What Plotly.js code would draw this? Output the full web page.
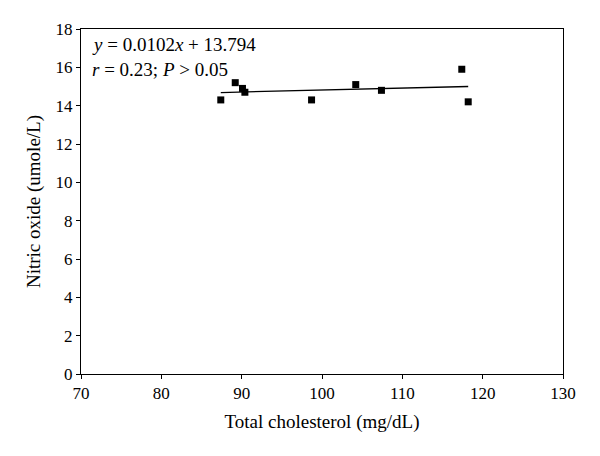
<!DOCTYPE html>
<html>
<head>
<meta charset="utf-8">
<script src="https://cdn.plot.ly/plotly-3.0.1.min.js"></script>
<style>html,body{margin:0;padding:0;background:#fff;}#chart{width:600px;height:456px;}</style>
</head>
<body>
<div id="chart"></div>
<script>
const cholesterol = [87.4, 89.2, 90.1, 90.4, 98.7, 104.2, 107.4, 117.4, 118.2];
const nitricOxide = [14.3, 15.2, 14.9, 14.7, 14.3, 15.1, 14.8, 15.9, 14.2];
const slope = 0.0102;
const intercept = 13.794;
const xTicks = [70, 80, 90, 100, 110, 120, 130];
const yTicks = [0, 2, 4, 6, 8, 10, 12, 14, 16, 18];

const xMin = Math.min(...cholesterol), xMax = Math.max(...cholesterol);
const trendX = [xMin, xMax];
const trendY = trendX.map(v => slope * v + intercept);

const font = {family: '"Liberation Serif", "DejaVu Serif", serif', color: '#000'};
const f = s => Object.assign({size: s}, font);

const data = [
  {x: trendX, y: trendY, mode: 'lines', type: 'scatter',
   line: {color: '#000', width: 1.3}, hoverinfo: 'skip', showlegend: false},
  {x: cholesterol, y: nitricOxide, mode: 'markers', type: 'scatter',
   marker: {symbol: 'square', size: 7, color: '#000'}, showlegend: false}
];

const layout = {
  width: 600, height: 456,
  margin: {l: 81, r: 37, t: 29, b: 82},
  paper_bgcolor: '#fff', plot_bgcolor: '#fff',
  font: f(17),
  showlegend: false,
  xaxis: {
    range: [70, 130], tickvals: xTicks, ticktext: xTicks.map(String),
    showgrid: false, zeroline: false,
    showline: true, linecolor: '#000', linewidth: 1, mirror: true,
    ticks: 'outside', ticklen: 4, tickcolor: '#000', tickwidth: 1,
    tickfont: f(17),
    title: {text: 'Total cholesterol (mg/dL)', font: f(19), standoff: 12}
  },
  yaxis: {
    range: [0, 18], tickvals: yTicks, ticktext: yTicks.map(String),
    showgrid: false, zeroline: false,
    showline: true, linecolor: '#000', linewidth: 1, mirror: true,
    ticks: 'outside', ticklen: 4, tickcolor: '#000', tickwidth: 1,
    tickfont: f(17),
    title: {text: 'Nitric oxide (umole/L)', font: f(19), standoff: 9}
  },
  annotations: [
    {xref: 'paper', yref: 'paper', x: 0.018, y: 0.955, xanchor: 'left', yanchor: 'middle',
     text: '<i>y</i> = 0.0102<i>x</i> + 13.794', showarrow: false, font: f(19)},
    {xref: 'paper', yref: 'paper', x: 0.018, y: 0.882, xanchor: 'left', yanchor: 'middle',
     text: '<i>r</i> = 0.23; <i>P</i> > 0.05', showarrow: false, font: f(19)}
  ]
};

Plotly.newPlot('chart', data, layout, {displayModeBar: false, staticPlot: true});
</script>
</body>
</html>
